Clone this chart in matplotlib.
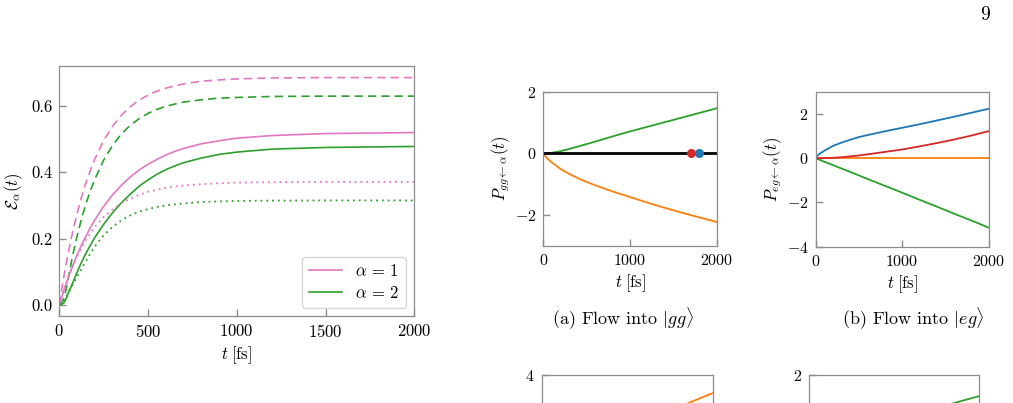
import numpy as np
import matplotlib
matplotlib.use("Agg")
import matplotlib.pyplot as plt

plt.rcParams.update({
    "font.family": "serif",
    "font.serif": ["cmr10"],
    "mathtext.fontset": "cm",
    "axes.formatter.use_mathtext": True,
    "axes.unicode_minus": True,
})

# ---------------- data: left panel (entanglement vs time) ----------------
t_left = [0, 10, 25, 40, 50, 75, 100, 125, 150, 175, 200, 250, 300, 350, 400, 450,
          500, 550, 600, 650, 700, 800, 900, 1000, 1200, 1500, 2000]
pink_dashed = [0, 0.034, 0.083, 0.127, 0.155, 0.219, 0.275, 0.325, 0.368, 0.406,
               0.440, 0.496, 0.539, 0.572, 0.598, 0.618, 0.633, 0.645, 0.654, 0.661,
               0.667, 0.675, 0.679, 0.682, 0.685, 0.686, 0.686]
green_dashed = [0, 0.003, 0.018, 0.050, 0.080, 0.148, 0.207, 0.259, 0.305, 0.344,
                0.379, 0.437, 0.481, 0.516, 0.542, 0.562, 0.578, 0.590, 0.599, 0.606,
                0.612, 0.619, 0.624, 0.626, 0.629, 0.630, 0.630]
pink_solid = [0, 0.017, 0.042, 0.066, 0.081, 0.117, 0.150, 0.180, 0.207, 0.233,
              0.256, 0.297, 0.332, 0.361, 0.386, 0.407, 0.424, 0.439, 0.452, 0.463,
              0.472, 0.486, 0.495, 0.503, 0.511, 0.517, 0.520]
green_solid = [0, 0.0, 0.005, 0.020, 0.035, 0.065, 0.098, 0.128, 0.155, 0.180,
               0.203, 0.243, 0.278, 0.308, 0.334, 0.358, 0.377, 0.394, 0.408, 0.419,
               0.429, 0.443, 0.454, 0.461, 0.470, 0.475, 0.478]
pink_dotted = [0, 0.018, 0.044, 0.067, 0.082, 0.116, 0.146, 0.172, 0.196, 0.216,
               0.235, 0.265, 0.288, 0.307, 0.321, 0.332, 0.341, 0.347, 0.353, 0.357,
               0.360, 0.364, 0.367, 0.369, 0.370, 0.371, 0.371]
green_dotted = [0, 0.002, 0.010, 0.025, 0.035, 0.060, 0.085, 0.108, 0.131, 0.155,
                0.176, 0.210, 0.235, 0.255, 0.270, 0.281, 0.289, 0.295, 0.300, 0.303,
                0.306, 0.310, 0.312, 0.3135, 0.3145, 0.315, 0.315]
legend_labels = [r"$\alpha \,=\, 1$", r"$\alpha \,=\, 2$"]

# ---------------- data: (a) flow into |gg> ----------------
t_a = [0, 25, 50, 100, 200, 300, 400, 500, 600, 800, 1000, 1200, 1400, 1600, 1800, 2000]
a_green = [0, 0.0, 0.005, 0.02, 0.07, 0.14, 0.22, 0.30, 0.38, 0.55, 0.71, 0.86,
           1.01, 1.16, 1.31, 1.46]
a_orange = [0, -0.10, -0.18, -0.30, -0.51, -0.67, -0.81, -0.93, -1.04, -1.24, -1.42,
            -1.60, -1.77, -1.93, -2.08, -2.23]
a_dots_t = [1700, 1800]
a_dots_v = [0, 0]

# ---------------- data: (b) flow into |eg> ----------------
t_b = [0, 25, 50, 100, 200, 300, 400, 500, 600, 800, 1000, 1200, 1400, 1600, 1800, 2000]
b_blue = [0, 0.12, 0.20, 0.33, 0.55, 0.70, 0.83, 0.95, 1.04, 1.21, 1.37, 1.53,
          1.70, 1.87, 2.05, 2.23]
b_orange = [0] * 16
b_green = [0, -0.04, -0.08, -0.16, -0.31, -0.47, -0.62, -0.78, -0.94, -1.25, -1.56,
           -1.88, -2.19, -2.51, -2.82, -3.14]
b_red = [0, 0.0, 0.0, 0.0, 0.015, 0.04, 0.08, 0.12, 0.17, 0.28, 0.39, 0.53,
         0.68, 0.84, 1.02, 1.22]

# ---------------- data: partially visible lower panels ----------------
t_c = [0, 500, 1000, 1500, 2000]
c_orange = [0, 0.6, 1.35, 2.15, 3.06]
d_green = [0, 0.15, 0.40, 0.72, 1.18]

PINK = "#e377c2"
GREEN = "#2ca02c"
ORANGE = "#ff7f0e"
BLUE = "#1f77b4"
RED = "#d62728"
SPINE = "#8c8c8c"

W, H = 1013, 403
fig = plt.figure(figsize=(W / 100, H / 100), dpi=100)


def add_ax(left, top, right, bottom):
    return fig.add_axes([left / W, 1 - bottom / H, (right - left) / W, (bottom - top) / H])


def style(ax, fs):
    for s in ax.spines.values():
        s.set_color(SPINE)
        s.set_linewidth(0.9)
    ax.tick_params(direction="in", length=5, width=1.0, color=SPINE,
                   labelsize=fs, pad=5, top=False, right=False)


# ---- left panel ----
ax = add_ax(59.3, 66, 414.3, 316)
ax.plot(t_left, pink_dashed, color=PINK, ls=(0, (5, 3)), lw=1.2)
ax.plot(t_left, green_dashed, color=GREEN, ls=(0, (5, 3)), lw=1.2)
ax.plot(t_left, pink_solid, color=PINK, lw=1.2, label=legend_labels[0])
ax.plot(t_left, green_solid, color=GREEN, lw=1.2, label=legend_labels[1])
ax.plot(t_left, pink_dotted, color=PINK, ls=(0, (1, 2.2)), lw=1.3)
ax.plot(t_left, green_dotted, color=GREEN, ls=(0, (1, 2.2)), lw=1.3)
ax.set_xlim(0, 2000)
ax.set_ylim(-0.034, 0.721)
ax.set_xticks([0, 500, 1000, 1500, 2000])
ax.set_yticks([0.0, 0.2, 0.4, 0.6])
ax.set_yticklabels(["0.0", "0.2", "0.4", "0.6"])
style(ax, 12)
ax.set_xlabel(r"$t\;[\mathrm{fs}]$", fontsize=12, labelpad=3)
ax.set_ylabel(r"$\mathcal{E}_\alpha(t)$", fontsize=12, labelpad=4)
leg = ax.legend(loc="lower right", fontsize=12, frameon=True, fancybox=True,
                handlelength=2.0, borderpad=0.4, labelspacing=0.35,
                handletextpad=0.8, borderaxespad=0.5)
leg.get_frame().set_edgecolor("#cccccc")
leg.get_frame().set_linewidth(1.0)

# ---- panel (a) ----
axa = add_ax(543.3, 91.7, 716.7, 245.7)
axa.plot(t_a, a_green, color=GREEN, lw=1.3)
axa.plot(t_a, a_orange, color=ORANGE, lw=1.3)
axa.axhline(0, color="black", lw=2.0)
axa.plot(a_dots_t[0], a_dots_v[0], "o", color=RED, ms=5.5)
axa.plot(a_dots_t[1], a_dots_v[1], "o", color=BLUE, ms=5.5)
axa.set_xlim(0, 2000)
axa.set_ylim(-3, 2)
axa.set_xticks([0, 1000, 2000])
axa.set_yticks([-2, 0, 2])
style(axa, 11.5)
axa.set_xlabel(r"$t\;[\mathrm{fs}]$", fontsize=12, labelpad=3)
axa.set_ylabel(r"$P_{gg\leftarrow\alpha}(t)$", fontsize=12, labelpad=2)
fig.text(623 / W, 1 - 319 / H, r"(a) Flow into $|gg\rangle$", ha="center", va="center",
         fontsize=13)

# ---- panel (b) ----
axb = add_ax(815.5, 91.7, 988.8, 246.7)
axb.plot(t_b, b_blue, color=BLUE, lw=1.3)
axb.plot(t_b, b_orange, color=ORANGE, lw=1.3)
axb.plot(t_b, b_green, color=GREEN, lw=1.3)
axb.plot(t_b, b_red, color=RED, lw=1.3)
axb.set_xlim(0, 2000)
axb.set_ylim(-4, 3)
axb.set_xticks([0, 1000, 2000])
axb.set_yticks([-4, -2, 0, 2])
style(axb, 11.5)
axb.set_xlabel(r"$t\;[\mathrm{fs}]$", fontsize=12, labelpad=3)
axb.set_ylabel(r"$P_{eg\leftarrow\alpha}(t)$", fontsize=12, labelpad=2)
fig.text(913 / W, 1 - 319 / H, r"(b) Flow into $|eg\rangle$", ha="center", va="center",
         fontsize=13)

# ---- partially visible lower panels ----
axc = add_ax(541.7, 375, 712.7, 529)
axc.plot(t_c, c_orange, color=ORANGE, lw=1.3)
axc.set_xlim(0, 2000)
axc.set_ylim(-4, 4)
axc.set_yticks([4])
axc.set_xticks([])
style(axc, 11.5)

axd = add_ax(809, 375, 979.3, 529)
axd.plot(t_c, d_green, color=GREEN, lw=1.3)
axd.set_xlim(0, 2000)
axd.set_ylim(-4, 2)
axd.set_yticks([2])
axd.set_xticks([])
style(axd, 11.5)

# page number
fig.text(985 / W, 1 - 15 / H, "9", ha="center", va="center", fontsize=14)

fig.savefig("out.png", dpi=100)
